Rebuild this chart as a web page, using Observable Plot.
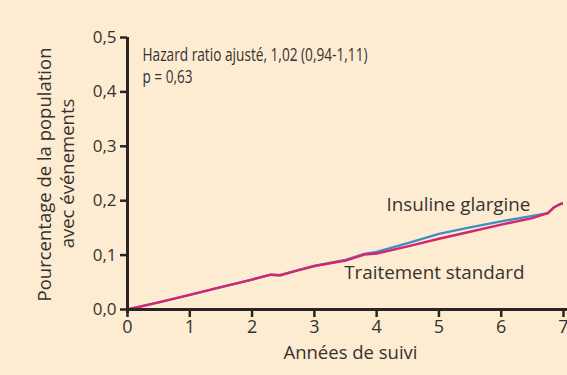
<!DOCTYPE html>
<html><head><meta charset="utf-8">
<script src="https://cdn.jsdelivr.net/npm/d3@7"></script>
<script src="https://cdn.jsdelivr.net/npm/@observablehq/plot@0.6"></script>
<style>
html,body{margin:0;padding:0;background:#fdecd1;}
svg{display:block;}
</style></head><body>
<div id="chart"></div>
<script>
// Years of follow-up and cumulative proportion with events
const stdYears = [0, 0.5, 1.0, 1.5, 2.0, 2.3, 2.45, 2.7, 3.0, 3.5, 3.8, 4.0, 4.5, 5.0, 5.5, 6.0, 6.5, 6.75, 6.85, 6.95, 7.1];
const stdVals  = [0, 0.013, 0.027, 0.041, 0.055, 0.064, 0.063, 0.071, 0.080, 0.090, 0.101, 0.103, 0.116, 0.130, 0.143, 0.156, 0.168, 0.177, 0.188, 0.194, 0.197];
const glaYears = [0, 0.5, 1.0, 1.5, 2.0, 2.3, 2.45, 2.7, 3.0, 3.5, 3.8, 4.0, 4.5, 5.0, 5.5, 6.0, 6.5, 6.75, 6.85, 6.95, 7.1];
const glaVals  = [0, 0.013, 0.027, 0.041, 0.055, 0.064, 0.063, 0.071, 0.080, 0.091, 0.102, 0.106, 0.122, 0.139, 0.151, 0.162, 0.172, 0.177, 0.188, 0.194, 0.197];
const xTicks = [0, 1, 2, 3, 4, 5, 6, 7];
const yTicks = [0, 0.1, 0.2, 0.3, 0.4, 0.5];
const seriesNames = ["Insuline glargine", "Traitement standard"];
const seriesColors = ["#3f8fc6", "#d3266f"];
const annotation = ["Hazard ratio ajusté, 1,02 (0,94-1,11)", "p = 0,63"];
const yLabelLines = ["Pourcentage de la population", "avec événements"];
const xLabel = "Années de suivi";
const seriesLabelX = [4.16, 3.48];
const seriesLabelY = [0.192, 0.068];

const gla = glaYears.map((x, i) => ({x, y: glaVals[i]}));
const std = stdYears.map((x, i) => ({x, y: stdVals[i]}));
const fmt = d => d.toFixed(1).replace(".", ",");
const ink = "#2a2523";
const txt = "#363230";

const chart = Plot.plot({
  width: 567, height: 375,
  marginLeft: 127, marginRight: 4, marginTop: 37, marginBottom: 66,
  style: {background: "#fdecd1", fontFamily: "'Open Sans', sans-serif", overflow: "hidden"},
  x: {domain: [0, 7]},
  y: {domain: [0, 0.5]},
  marks: [
    Plot.line(gla, {x: "x", y: "y", stroke: seriesColors[0], strokeWidth: 2.4, clip: true}),
    Plot.line(std, {x: "x", y: "y", stroke: seriesColors[1], strokeWidth: 2.4, clip: true}),
    Plot.axisY(yTicks, {tickSize: 7, tickPadding: 4, tickFormat: fmt, stroke: ink, strokeWidth: 2.5, fill: txt, fontSize: 17, label: null}),
    Plot.axisX(xTicks, {tickSize: 8, tickPadding: 3, tickFormat: d => String(d), stroke: ink, strokeWidth: 2.5, fill: txt, fontSize: 18, label: null}),
    Plot.ruleX([0], {stroke: ink, strokeWidth: 3, insetBottom: -4}),
    Plot.ruleY([0], {stroke: ink, strokeWidth: 3, insetRight: -6}),
    Plot.text(seriesNames, {x: (d, i) => seriesLabelX[i], y: (d, i) => seriesLabelY[i], text: d => d, textAnchor: "start", fill: txt, fontSize: 18.8}),
    Plot.text([annotation[0]], {className: "annot0", frameAnchor: "top-left", dx: 15, dy: 18, textAnchor: "start", lineAnchor: "middle", fill: txt, fontSize: 18}),
    Plot.text([annotation[1]], {className: "annot1", frameAnchor: "top-left", dx: 15, dy: 40, textAnchor: "start", lineAnchor: "middle", fill: txt, fontSize: 18}),
    Plot.text([yLabelLines[0]], {frameAnchor: "left", textAnchor: "middle", lineAnchor: "middle", dx: -82, dy: 1, rotate: -90, fill: txt, fontSize: 18.5}),
    Plot.text([yLabelLines[1]], {frameAnchor: "left", textAnchor: "middle", lineAnchor: "middle", dx: -59, dy: 0, rotate: -90, fill: txt, fontSize: 18.5}),
    Plot.text([xLabel], {frameAnchor: "bottom", textAnchor: "middle", lineAnchor: "middle", dx: 5, dy: 44, fill: txt, fontSize: 18.5})
  ]
});
// condensed typeface look for the hazard-ratio annotation
const annotWidths = [225, 50];
annotWidths.forEach((w, i) => {
  d3.select(chart).selectAll(`.annot${i} text`).attr("textLength", w).attr("lengthAdjust", "spacingAndGlyphs");
});
document.getElementById("chart").appendChild(chart);
</script></body></html>
